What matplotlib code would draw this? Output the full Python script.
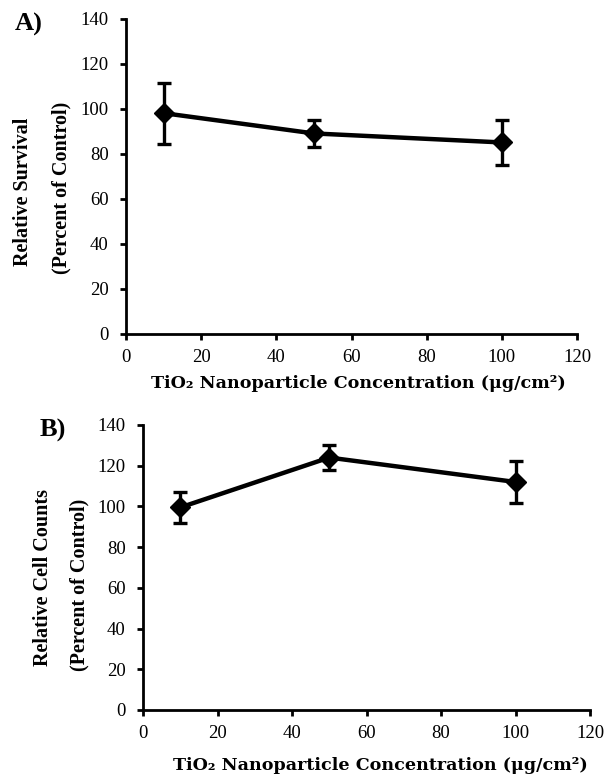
import matplotlib
matplotlib.use("Agg")
import matplotlib.pyplot as plt

plt.rcParams['font.family'] = ['Liberation Serif', 'DejaVu Serif']

conc = [10, 50, 100]
survival = [98, 89, 85]
survival_err = [13.5, 6, 10]
counts = [99.5, 124, 112]
counts_err = [7.5, 6, 10.5]
xticks = [0, 20, 40, 60, 80, 100, 120]
yticks = [0, 20, 40, 60, 80, 100, 120, 140]

W, H = 605, 783
fig = plt.figure(figsize=(W / 100, H / 100), dpi=100)
axA = fig.add_axes([126 / W, 1 - 334 / H, (577 - 126) / W, (334 - 18.5) / H])
axB = fig.add_axes([143 / W, 1 - 710 / H, (590 - 143) / W, (710 - 425) / H])

for ax, y, e in [(axA, survival, survival_err), (axB, counts, counts_err)]:
    ax.errorbar(conc, y, yerr=e, color='black', lw=3.2, marker='D', ms=10.5,
                capsize=4.8, capthick=2.4, elinewidth=2.4)
    ax.set_xlim(0, 120)
    ax.set_ylim(0, 140)
    ax.set_xticks(xticks)
    ax.set_yticks(yticks)
    for s in ['top', 'right']:
        ax.spines[s].set_visible(False)
    for s in ['left', 'bottom']:
        ax.spines[s].set_linewidth(2.0)
    ax.tick_params(direction='out', length=4.5, width=2, labelsize=13.5)
    ax.tick_params(axis='y', pad=8)
    ax.tick_params(axis='x', pad=6)

xlabel = 'TiO\u2082 Nanoparticle Concentration (\u03bcg/cm\u00b2)'
fig.text(358 / W, 1 - 384 / H, xlabel, ha='center', va='center', fontsize=12.6,
         fontweight='bold', family='DejaVu Serif')
fig.text(380 / W, 1 - 765 / H, xlabel, ha='center', va='center', fontsize=12.6,
         fontweight='bold', family='DejaVu Serif')

ykw = dict(rotation=90, ha='center', va='center', fontsize=14.5, fontweight='bold')
fig.text(23 / W, 1 - 192 / H, 'Relative Survival', **ykw)
fig.text(61 / W, 1 - 188 / H, '(Percent of Control)', **ykw)
fig.text(43 / W, 1 - 577 / H, 'Relative Cell Counts', **ykw)
fig.text(79 / W, 1 - 585 / H, '(Percent of Control)', **ykw)

fig.text(15 / W, 1 - 24 / H, 'A)', ha='left', va='center', fontsize=19, fontweight='bold')
fig.text(40 / W, 1 - 430 / H, 'B)', ha='left', va='center', fontsize=19, fontweight='bold')

fig.savefig('out.png', dpi=100)
